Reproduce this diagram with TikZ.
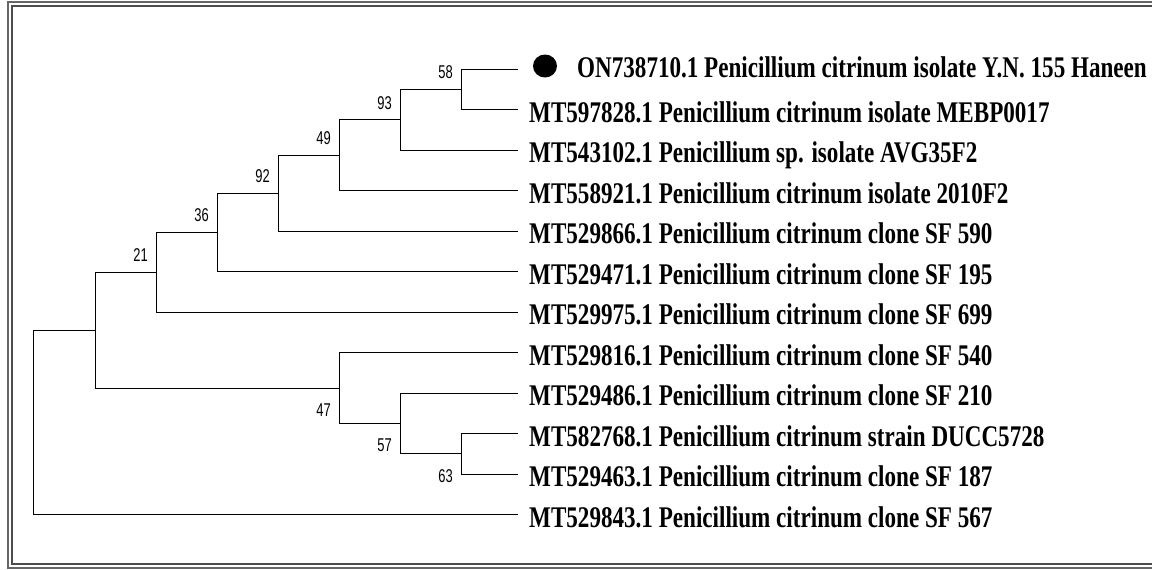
\documentclass[tikz,border=0pt]{standalone}
\usepackage{fontspec}
\setmainfont{Liberation Serif}
\newfontfamily\leaffont[FakeStretch=0.77]{Liberation Serif}
\newfontfamily\bootfont[FakeStretch=0.7]{Liberation Sans}
\usepackage{tikz}

\begin{document}
\begin{tikzpicture}[x=1pt,y=-1pt,
		frame/.style={line width=1.6pt,black!60},
		branch/.style={line width=1pt,black},
		leaf/.style={anchor=base west,inner sep=0pt,font=\leaffont\bfseries\fontsize{30}{30}\selectfont},
		boot/.style={anchor=base east,inner sep=0pt,font=\bootfont\fontsize{18.5}{18.5}\selectfont}]
			\useasboundingbox (0,0) rectangle (1152,570);
			\draw[frame] (1160,2) -- (8,2) -- (8,568) -- (1160,568);
			\draw[frame,black!70] (1160,6) -- (12,6) -- (12,564) -- (1160,564);
			\coordinate (t1) at (518,69);
			\coordinate (t2) at (518,109.5);
			\coordinate (t3) at (518,150);
			\coordinate (t4) at (518,190.5);
			\coordinate (t5) at (518,231);
			\coordinate (t6) at (518,271.5);
			\coordinate (t7) at (518,312);
			\coordinate (t8) at (518,352.5);
			\coordinate (t9) at (518,393);
			\coordinate (t10) at (518,433.5);
			\coordinate (t11) at (518,474);
			\coordinate (t12) at (518,514.5);
			\coordinate (n58) at (461,89.25);
			\coordinate (n93) at (400,119.6);
			\coordinate (n49) at (339,155);
			\coordinate (n92) at (278,193);
			\coordinate (n36) at (217,232.3);
			\coordinate (n21) at (156,272.1);
			\coordinate (n63) at (461,453.75);
			\coordinate (n57) at (400,423.4);
			\coordinate (n47) at (339,388);
			\coordinate (nx) at (95,330);
			\coordinate (root) at (33,422);
			\draw[branch] (n58) |- (t1) (n58) |- (t2);
			\draw[branch] (n93) |- (n58) (n93) |- (t3);
			\draw[branch] (n49) |- (n93) (n49) |- (t4);
			\draw[branch] (n92) |- (n49) (n92) |- (t5);
			\draw[branch] (n36) |- (n92) (n36) |- (t6);
			\draw[branch] (n21) |- (n36) (n21) |- (t7);
			\draw[branch] (n63) |- (t10) (n63) |- (t11);
			\draw[branch] (n57) |- (t9) (n57) |- (n63);
			\draw[branch] (n47) |- (t8) (n47) |- (n57);
			\draw[branch] (nx) |- (n21) (nx) |- (n47);
			\draw[branch] (root) |- (nx) (root) |- (t12);
			\node[boot] (b58) at ([xshift=-8pt,yshift=10.5pt]n58) {58};
			\node[boot] (b93) at ([xshift=-8pt,yshift=10.5pt]n93) {93};
			\node[boot] (b49) at ([xshift=-8pt,yshift=10.5pt]n49) {49};
			\node[boot] (b92) at ([xshift=-8pt,yshift=10.5pt]n92) {92};
			\node[boot] (b36) at ([xshift=-8pt,yshift=10.5pt]n36) {36};
			\node[boot] (b21) at ([xshift=-8pt,yshift=10.5pt]n21) {21};
			\node[boot] (b47) at ([xshift=-8pt,yshift=-28.5pt]n47) {47};
			\node[boot] (b57) at ([xshift=-8pt,yshift=-28.5pt]n57) {57};
			\node[boot] (b63) at ([xshift=-8pt,yshift=-28.5pt]n63) {63};
			\fill ([xshift=27pt,yshift=3pt]t1) ellipse [x radius=12pt,y radius=11.5pt];
			\node[leaf] (l1) at ([xshift=59pt,yshift=-8pt]t1) {ON738710.1 Penicillium citrinum isolate Y.N. 155 Haneen};
			\node[leaf] (l2) at ([xshift=11pt,yshift=-12.5pt]t2) {MT597828.1 Penicillium citrinum isolate MEBP0017};
			\node[leaf] (l3) at ([xshift=11pt,yshift=-12.5pt]t3) {MT543102.1 Penicillium sp. isolate AVG35F2};
			\node[leaf] (l4) at ([xshift=11pt,yshift=-12.5pt]t4) {MT558921.1 Penicillium citrinum isolate 2010F2};
			\node[leaf] (l5) at ([xshift=11pt,yshift=-12.5pt]t5) {MT529866.1 Penicillium citrinum clone SF 590};
			\node[leaf] (l6) at ([xshift=11pt,yshift=-12.5pt]t6) {MT529471.1 Penicillium citrinum clone SF 195};
			\node[leaf] (l7) at ([xshift=11pt,yshift=-12.5pt]t7) {MT529975.1 Penicillium citrinum clone SF 699};
			\node[leaf] (l8) at ([xshift=11pt,yshift=-12.5pt]t8) {MT529816.1 Penicillium citrinum clone SF 540};
			\node[leaf] (l9) at ([xshift=11pt,yshift=-12.5pt]t9) {MT529486.1 Penicillium citrinum clone SF 210};
			\node[leaf] (l10) at ([xshift=11pt,yshift=-12.5pt]t10) {MT582768.1 Penicillium citrinum strain DUCC5728};
			\node[leaf] (l11) at ([xshift=11pt,yshift=-12.5pt]t11) {MT529463.1 Penicillium citrinum clone SF 187};
			\node[leaf] (l12) at ([xshift=11pt,yshift=-12.5pt]t12) {MT529843.1 Penicillium citrinum clone SF 567};
		\end{tikzpicture}
\end{document}
